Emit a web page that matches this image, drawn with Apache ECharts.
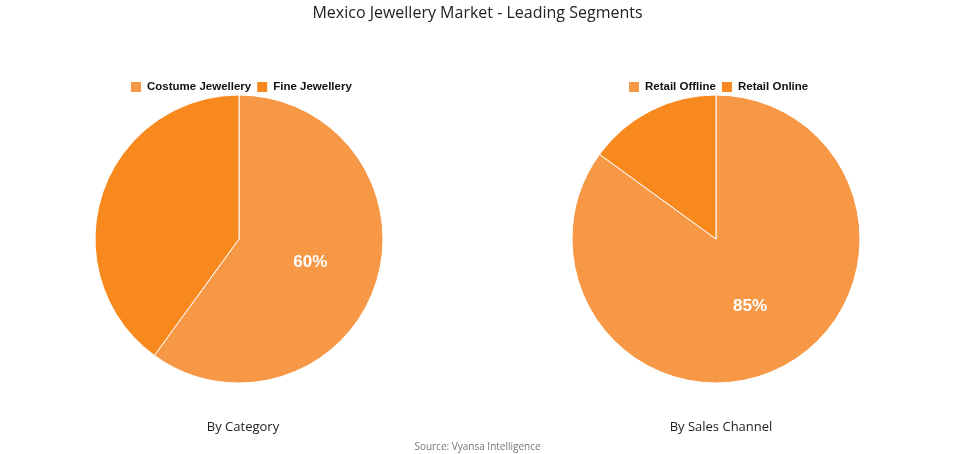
<!DOCTYPE html>
<html>
<head>
<meta charset="UTF-8">
<script src="https://cdn.jsdelivr.net/npm/echarts@6/dist/echarts.min.js"></script>
<style>html,body{margin:0;padding:0;background:#fff}#c{width:955px;height:454px}</style>
</head>
<body>
<div id="c"></div>
<script>
var categoryNames = ['Costume Jewellery', 'Fine Jewellery'];
var categoryValues = [60, 40];
var channelNames = ['Retail Offline', 'Retail Online'];
var channelValues = [85, 15];
var colors = ['#F79846', '#F7891F'];

function pieData(names, values) {
  return names.map(function (n, i) {
    return { name: n, value: values[i], label: { show: i === 0 } };
  });
}

var chart = echarts.init(document.getElementById('c'));
var font = '"Open Sans", sans-serif';
var boldFont = '"Liberation Sans", Arial, sans-serif';
var legendText = { fontFamily: boldFont, fontWeight: 'bold', fontSize: 11.5, color: '#111' };
var labelStyle = { position: 'inside', formatter: '{d}%', color: '#fff', fontSize: 17, fontWeight: 'bold', fontFamily: boldFont };
chart.setOption({
  color: colors,
  title: [
    { text: 'Mexico Jewellery Market - Leading Segments', left: 'center', top: 0,
      textStyle: { fontFamily: font, fontSize: 16, fontWeight: 'normal', color: '#222' } },
    { text: 'By Category', left: 238, top: 416, textAlign: 'center',
      textStyle: { fontFamily: font, fontSize: 13, fontWeight: 'normal', color: '#222' } },
    { text: 'By Sales Channel', left: 716, top: 416, textAlign: 'center',
      textStyle: { fontFamily: font, fontSize: 13, fontWeight: 'normal', color: '#222' } },
    { text: 'Source: Vyansa Intelligence', left: 'center', top: 437,
      textStyle: { fontFamily: font, fontSize: 10, fontWeight: 'normal', color: '#777' } }
  ],
  legend: [
    { data: categoryNames, left: 124, top: 75, itemWidth: 12, itemHeight: 12, itemGap: 4, icon: 'rect', textStyle: legendText },
    { data: channelNames, left: 622, top: 75, itemWidth: 12, itemHeight: 12, itemGap: 4, icon: 'rect', textStyle: legendText }
  ],
  series: [
    { type: 'pie', center: [239, 239], radius: 144, data: pieData(categoryNames, categoryValues),
      itemStyle: { borderColor: '#fff', borderWidth: 1 },
      label: labelStyle, labelLine: { show: false }, emphasis: { disabled: true } },
    { type: 'pie', center: [716, 239], radius: 144, data: pieData(channelNames, channelValues),
      itemStyle: { borderColor: '#fff', borderWidth: 1 },
      label: labelStyle, labelLine: { show: false }, emphasis: { disabled: true } }
  ]
});
</script>
</body>
</html>
